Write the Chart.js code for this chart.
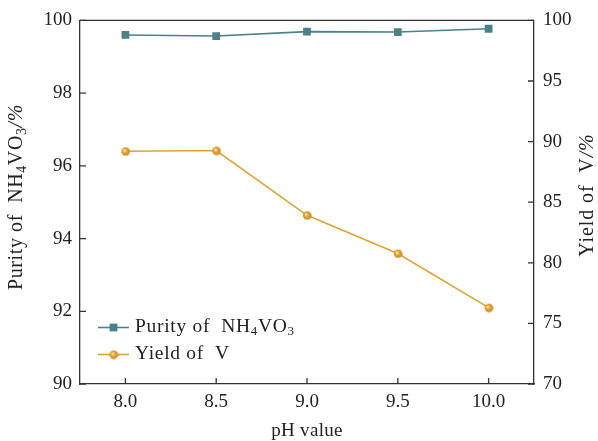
<!DOCTYPE html>
<html>
<head>
<meta charset="utf-8">
<script src="https://cdn.jsdelivr.net/npm/chart.js@4"></script>
<style>
  html, body { margin: 0; padding: 0; background: #fff; }
  #wrap { width: 598px; height: 441px; }
</style>
</head>
<body>
<div id="wrap"><canvas id="c" width="598" height="441"></canvas></div>
<script>
const phLabels = ['8.0', '8.5', '9.0', '9.5', '10.0']
const purityValues = [99.60, 99.57, 99.69, 99.68, 99.77]
const yieldValues = [89.20, 89.26, 83.92, 80.77, 76.30]
const purityTicks = [90, 92, 94, 96, 98, 100]
const yieldTicks = [70, 75, 80, 85, 90, 95, 100]

const TEAL = '#4b8189'
const GOLD = '#dea335'
const INK = '#222'
const SERIF = '"Liberation Serif", "DejaVu Serif", serif'

// small shaded ball for the yield markers
function makeBall(r) {
  const c = document.createElement('canvas')
  const s = r * 2 + 2
  c.width = s
  c.height = s
  const g = c.getContext('2d')
  const grad = g.createRadialGradient(s / 2 - 1.3, s / 2 - 1.3, 0.5, s / 2, s / 2, r)
  grad.addColorStop(0, '#fbe7b8')
  grad.addColorStop(0.45, GOLD)
  grad.addColorStop(1, '#c98a1e')
  g.fillStyle = grad
  g.beginPath()
  g.arc(s / 2, s / 2, r, 0, Math.PI * 2)
  g.fill()
  return c
}
const ball = makeBall(4.3)

// text with parts: [text, style] where style is 'sub', 'it' or undefined
function partFont(style, size) {
  if (style === 'sub') return `${Math.round(size * 0.68)}px ${SERIF}`
  if (style === 'it') return `italic ${size}px ${SERIF}`
  return `${size}px ${SERIF}`
}
function richWidth(ctx, parts, size) {
  let w = 0
  parts.forEach(([t, st]) => {
    ctx.font = partFont(st, size)
    w += ctx.measureText(t).width
  })
  return w
}
function drawRich(ctx, parts, x, y, size, align, spacing) {
  ctx.letterSpacing = (spacing || 0) + 'px'
  let cx = align === 'center' ? x - richWidth(ctx, parts, size) / 2 : x
  ctx.textAlign = 'left'
  ctx.textBaseline = 'middle'
  parts.forEach(([t, st]) => {
    ctx.font = partFont(st, size)
    ctx.fillText(t, cx, st === 'sub' ? y + 5 : y)
    cx += ctx.measureText(t).width
  })
  ctx.letterSpacing = '0px'
}

const purityTitle = [['Purity of  NH'], ['4', 'sub'], ['VO'], ['3', 'sub'], ['/%', 'it']]
const yieldTitle = [['Yield of  V'], ['/%', 'it']]

const framePlugin = {
  id: 'frame',
  afterDraw(chart) {
    const { ctx, chartArea: a, scales } = chart
    ctx.save()
    ctx.strokeStyle = '#333'
    ctx.lineWidth = 1.3
    // top border
    ctx.beginPath()
    ctx.moveTo(a.left, a.top)
    ctx.lineTo(a.right, a.top)
    ctx.stroke()
    // inward ticks
    ctx.beginPath()
    scales.x.ticks.forEach((t, i) => {
      const px = scales.x.getPixelForTick(i)
      ctx.moveTo(px, a.bottom)
      ctx.lineTo(px, a.bottom - 6)
    })
    scales.y.ticks.forEach((t) => {
      const py = scales.y.getPixelForValue(t.value)
      ctx.moveTo(a.left, py)
      ctx.lineTo(a.left + 6, py)
    })
    scales.y1.ticks.forEach((t) => {
      const py = scales.y1.getPixelForValue(t.value)
      ctx.moveTo(a.right, py)
      ctx.lineTo(a.right - 6, py)
    })
    ctx.stroke()

    ctx.fillStyle = INK
    // axis titles
    ctx.save()
    ctx.translate(17, 197)
    ctx.rotate(-Math.PI / 2)
    drawRich(ctx, purityTitle, 0, 0, 20, 'center', 0.6)
    ctx.restore()
    ctx.save()
    ctx.translate(588, 195)
    ctx.rotate(-Math.PI / 2)
    drawRich(ctx, yieldTitle, 0, 0, 20, 'center', 0.9)
    ctx.restore()
    drawRich(ctx, [['pH value']], (a.left + a.right) / 2, 431, 19, 'center', 0.3)

    // legend
    const rows = [
      { y: 327.5, color: TEAL, label: [['Purity of  NH'], ['4', 'sub'], ['VO'], ['3', 'sub']], marker: 'rect' },
      { y: 354.5, color: GOLD, label: [['Yield of  V']], marker: 'ball' },
    ]
    rows.forEach((r) => {
      ctx.strokeStyle = r.color
      ctx.lineWidth = 1.6
      ctx.beginPath()
      ctx.moveTo(98, r.y)
      ctx.lineTo(129, r.y)
      ctx.stroke()
      if (r.marker === 'rect') {
        ctx.fillStyle = r.color
        ctx.fillRect(113.5 - 3.9, r.y - 3.9, 7.8, 7.8)
      } else {
        ctx.drawImage(ball, 113.5 - ball.width / 2, r.y - ball.height / 2)
      }
      ctx.fillStyle = INK
      drawRich(ctx, r.label, 135, r.y - 0.5, 19.5, 'left', 0.7)
    })
    ctx.restore()
  },
}

const tickFont = { family: SERIF, size: 19 }

new Chart(document.getElementById('c'), {
  type: 'line',
  data: {
    labels: phLabels,
    datasets: [
      {
        label: 'Purity of NH4VO3',
        data: purityValues,
        yAxisID: 'y',
        borderColor: TEAL,
        backgroundColor: TEAL,
        borderWidth: 1.6,
        pointStyle: 'rect',
        pointRadius: 5.5,
        pointBorderWidth: 0,
        pointBackgroundColor: TEAL,
      },
      {
        label: 'Yield of V',
        data: yieldValues,
        yAxisID: 'y1',
        borderColor: GOLD,
        backgroundColor: GOLD,
        borderWidth: 1.6,
        pointStyle: ball,
        pointRadius: 4.3,
      },
    ],
  },
  options: {
    responsive: false,
    animation: false,
    layout: { padding: { top: 19, left: 0, right: 0, bottom: 0 } },
    plugins: { legend: { display: false }, tooltip: { enabled: false } },
    scales: {
      x: {
        type: 'category',
        offset: true,
        grid: { display: true, drawOnChartArea: false, drawTicks: false },
        border: { display: true, color: '#333', width: 1.3 },
        ticks: { color: INK, font: tickFont, padding: 7, maxRotation: 0 },
        afterFit: (s) => { s.height = 57 },
      },
      y: {
        position: 'left',
        min: 90,
        max: 100,
        afterBuildTicks: (s) => { s.ticks = purityTicks.map((v) => ({ value: v })) },
        grid: { display: true, drawOnChartArea: false, drawTicks: false },
        border: { display: true, color: '#333', width: 1.3 },
        ticks: { color: INK, font: tickFont, padding: 8 },
        afterFit: (s) => { s.width = 80 },
      },
      y1: {
        position: 'right',
        min: 70,
        max: 100,
        afterBuildTicks: (s) => { s.ticks = yieldTicks.map((v) => ({ value: v })) },
        grid: { display: true, drawOnChartArea: false, drawTicks: false },
        border: { display: true, color: '#333', width: 1.3 },
        ticks: { color: INK, font: tickFont, padding: 9 },
        afterFit: (s) => { s.width = 64 },
      },
    },
  },
  plugins: [framePlugin],
})
</script>
</body>
</html>
